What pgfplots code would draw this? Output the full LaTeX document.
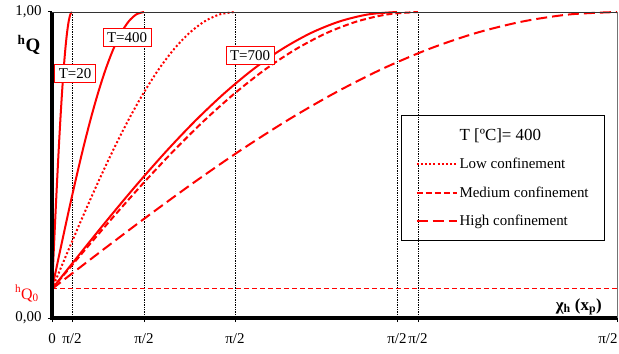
\documentclass[border=0pt]{standalone}
\usepackage{pgfplots}
\usepackage{pgfplotstable}
\usepackage{fontspec}
\setmainfont{Liberation Serif}
\pgfplotsset{compat=1.18}

% q = hQ value; a..f = x positions (px-like units, 0..565) of each curve
% a: T=20, b: T=400, c: Low conf., d: T=700, e: Medium conf., f: High conf.
\pgfplotstableread{
q      a       b       c       d       e       f
0.0950 0       0       0       0       0       0
0.2131 1.667   7.667   15.25   28.75   30.5    47.08
0.3292 3.333   15.333  30.5    57.5    61      94.17
0.4413 5       23      45.75   86.25   91.5    141.25
0.5475 6.667   30.667  61      115     122     188.33
0.6460 8.333   38.333  76.25   143.75  152.5   235.42
0.7349 10      46      91.5    172.5   183     282.5
0.8130 11.667  53.667  106.75  201.25  213.5   329.58
0.8787 13.333  61.333  122     230     244     376.67
0.9311 15      69      137.25  258.75  274.5   423.75
0.9691 16.667  76.667  152.5   287.5   305     470.83
0.9922 18.333  84.333  167.75  316.25  335.5   517.92
1.0000 20      92      183     345     366     565
}\curves

\begin{document}
\begin{tikzpicture}
\path[use as bounding box] (-52bp,-36bp) rectangle (567bp,318bp);
\begin{axis}[
  at={(0,0)}, anchor=south west,
  scale only axis, width=565bp, height=306bp,
  xmin=0, xmax=565, ymin=0, ymax=1,
  clip=false,
  axis line style={black!55, line width=0.8bp},
  xtick={0,20,92,183,345,366},
  xticklabels={0,π/2,π/2,π/2,π/2,π/2},
  extra x ticks={565},
  extra x tick labels={π/2},
  extra x tick style={xticklabel style={xshift=-9bp}},
  ytick={0,1}, yticklabels={{0,00},{1,00}},
  tick align=outside, tick pos=left,
  major tick length=4bp,
  tick style={black, line width=1bp},
  ticklabel style={font=\fontsize{15}{18}\selectfont},
  xticklabel style={yshift=-8bp},
  yticklabel style={xshift=-3bp},
  legend image code/.code={\draw[#1] (0bp,0bp) -- (40bp,0bp);},
  legend cell align=left,
  legend style={at={(0.618,0.663)}, anchor=north west, draw=black,
    line width=0.8bp, fill=none,
    font=\fontsize{15}{18}\selectfont,
    inner xsep=14bp, inner ysep=11bp, row sep=12.5bp,
    /tikz/every even column/.append style={column sep=4bp}},
]
% vertical dotted guide lines
\addplot[forget plot, black, densely dotted, line width=0.7bp] coordinates {(20,0) (20,1)};
\addplot[forget plot, black, densely dotted, line width=0.7bp] coordinates {(92,0) (92,1)};
\addplot[forget plot, black, densely dotted, line width=0.7bp] coordinates {(183,0) (183,1)};
\addplot[forget plot, black, densely dotted, line width=0.7bp] coordinates {(345,0) (345,1)};
\addplot[forget plot, black, densely dotted, line width=0.7bp] coordinates {(366,0) (366,1)};
% hQ0 level
\addplot[forget plot, red, line width=1bp, dash pattern=on 5bp off 3bp] coordinates {(0,0.095) (565,0.095)};

% solid curves (T=20, T=400, T=700)
\addplot[forget plot, red, line width=2bp, smooth] table[x=a, y=q] {\curves};
\addplot[forget plot, red, line width=2bp, smooth] table[x=b, y=q] {\curves};
\addplot[forget plot, red, line width=2bp, smooth] table[x=d, y=q] {\curves};

\addlegendimage{empty legend}
\addlegendentry{\fontsize{17}{20}\selectfont T [ºC]= 400}
\addplot[red, line width=2bp, smooth, dash pattern=on 2bp off 2.2bp] table[x=c, y=q] {\curves};
\addlegendentry{Low confinement}
\addplot[red, line width=2bp, smooth, dash pattern=on 6bp off 3bp] table[x=e, y=q] {\curves};
\addlegendentry{Medium confinement}
\addplot[red, line width=2bp, smooth, dash pattern=on 11bp off 5bp] table[x=f, y=q] {\curves};
\addlegendentry{High confinement}

% thick left and bottom axis lines
\draw[black, line width=3bp] (axis cs:0,1) -- (axis cs:0,0) -- (axis cs:565,0);
\draw[black!80, line width=0.8bp] (axis cs:0,1) -- (axis cs:565,1);

% curve labels
\node[draw=red, fill=white, line width=0.8bp, inner xsep=4bp, inner ysep=4bp,
      font=\fontsize{15}{18}\selectfont] at (axis cs:23,0.80) {T=20};
\node[draw=red, fill=white, line width=0.8bp, inner xsep=4bp, inner ysep=4bp,
      font=\fontsize{15}{18}\selectfont] at (axis cs:75,0.917) {T=400};
\node[draw=red, fill=white, line width=0.8bp, inner xsep=4bp, inner ysep=4bp,
      font=\fontsize{15}{18}\selectfont] at (axis cs:198,0.859) {T=700};

% axis titles
\node[font=\bfseries\fontsize{19}{21}\selectfont, xshift=-23bp] at (axis cs:0,0.892) {\textsuperscript{h}Q};
\node[red, font=\fontsize{16}{19}\selectfont, anchor=base east, inner sep=0pt, xshift=-13bp] at (axis cs:0,0.062) {\textsuperscript{h}Q\textsubscript{0}};
\node[font=\bfseries\fontsize{17}{20}\selectfont, anchor=base east, inner sep=0pt, xshift=-15bp, yshift=8bp] at (axis cs:565,0) {χ\textsubscript{h} (x\textsubscript{p})};
\end{axis}
\end{tikzpicture}
\end{document}
